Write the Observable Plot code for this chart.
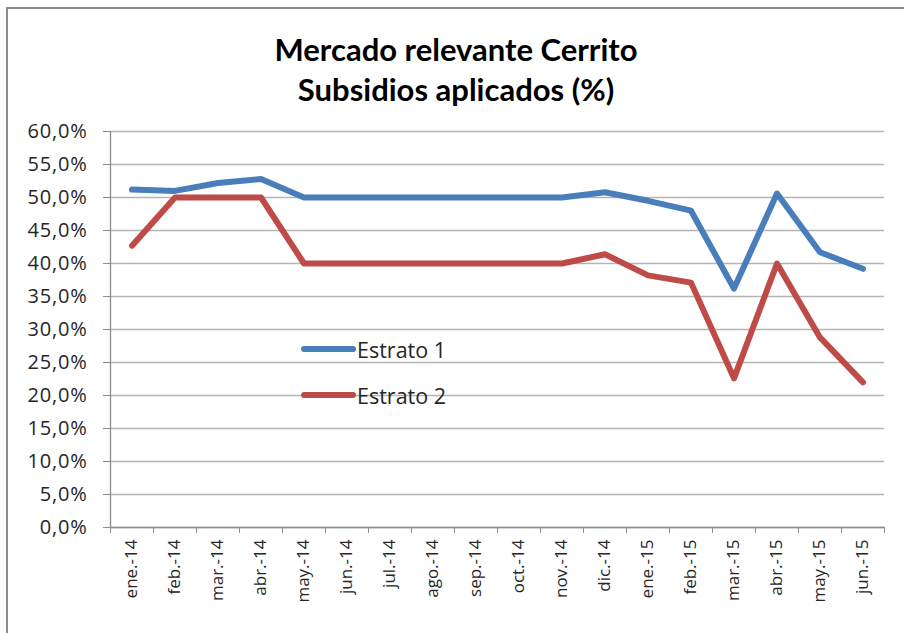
<!DOCTYPE html>
<html>
<head>
<meta charset="utf-8">
<script src="https://cdn.jsdelivr.net/npm/d3@7"></script>
<script src="https://cdn.jsdelivr.net/npm/@observablehq/plot@0.6"></script>
<style>
  html, body { margin: 0; padding: 0; background: #fff; }
  #wrap { position: relative; width: 904px; height: 633px; overflow: hidden; font-family: "Open Sans", Lato, sans-serif; }
  #frame { position: absolute; left: 6px; top: 7px; width: 920px; height: 650px; border-top: 2px solid #8c8c8c; border-left: 2px solid #8c8c8c; box-sizing: border-box; }
  #title { position: relative; height: 118px; box-sizing: border-box; padding-top: 29px; padding-left: 8px; text-align: center; font-family: Lato, sans-serif; font-weight: bold; font-size: 31px; line-height: 40px; color: #000; }
  #chart { position: relative; }
  #chart svg g[aria-label="y-axis tick label"] { letter-spacing: 0.8px; }
  #legend { position: absolute; left: 301px; top: 0; font-size: 21.5px; color: #262626; }
  .item { position: absolute; left: 0; display: flex; align-items: center; height: 26px; white-space: nowrap; }
  .swatch { width: 55px; height: 6px; border-radius: 3px; margin-right: 1px; }
</style>
</head>
<body>
<div id="wrap">
  <div id="frame"></div>
  <div id="title">Mercado relevante Cerrito<br>Subsidios aplicados (%)</div>
  <div id="chart"></div>
  <div id="legend"></div>
</div>
<script>
const months = ["ene.-14","feb.-14","mar.-14","abr.-14","may.-14","jun.-14","jul.-14","ago.-14","sep.-14","oct.-14","nov.-14","dic.-14","ene.-15","feb.-15","mar.-15","abr.-15","may.-15","jun.-15"];
const estrato1 = [51.2, 51.0, 52.2, 52.8, 50.0, 50.0, 50.0, 50.0, 50.0, 50.0, 50.0, 50.8, 49.5, 48.0, 36.2, 50.6, 41.7, 39.2];
const estrato2 = [42.7, 50.0, 50.0, 50.0, 40.0, 40.0, 40.0, 40.0, 40.0, 40.0, 40.0, 41.4, 38.2, 37.1, 22.6, 40.0, 28.8, 22.0];
const seriesNames = ["Estrato 1", "Estrato 2"];
const seriesColors = ["#4a7ebb", "#be4b48"];
const yTicks = [0, 5, 10, 15, 20, 25, 30, 35, 40, 45, 50, 55, 60];

const data = [];
months.forEach((m, i) => {
  data.push({i, month: m, series: seriesNames[0], value: estrato1[i]});
  data.push({i, month: m, series: seriesNames[1], value: estrato2[i]});
});
const idx = months.map((m, i) => i);
const bounds = [-0.5, ...idx.map(i => i + 0.5)];
const fmt = d => d.toFixed(1).replace(".", ",") + "%";

const chart = Plot.plot({
  width: 904,
  height: 515,
  marginLeft: 110,
  marginRight: 20,
  marginTop: 13,
  marginBottom: 106,
  style: { fontFamily: "'Open Sans', sans-serif", background: "transparent", overflow: "visible" },
  x: { type: "linear", domain: [-0.5, months.length - 0.5] },
  y: { domain: [0, 60] },
  color: { domain: seriesNames, range: seriesColors },
  marks: [
    Plot.gridY(yTicks, { stroke: "#b4b4b4", strokeOpacity: 1, strokeWidth: 1.3 }),
    Plot.axisY({ ticks: yTicks, tickSize: 7, tickPadding: 16, tickFormat: fmt, fontSize: 20, stroke: "#8c8c8c", fill: "#262626", label: null }),
    Plot.axisX({ ticks: bounds, tickSize: 6, tickFormat: () => "", stroke: "#8c8c8c", label: null }),
    Plot.axisX({ ticks: idx, tickSize: 0, tickPadding: 12, tickRotate: -90, tickFormat: i => months[i], fontSize: 17, fill: "#262626", label: null }),
    Plot.ruleX([-0.5], { stroke: "#8c8c8c", strokeWidth: 1.3 }),
    Plot.ruleY([0], { stroke: "#8c8c8c", strokeWidth: 1.3 }),
    Plot.line(data, { x: "i", y: "value", z: "series", stroke: "series", strokeWidth: 6, strokeLinejoin: "round", strokeLinecap: "round" })
  ]
});
document.getElementById("chart").appendChild(chart);

const legend = document.getElementById("legend");
const legendTops = [336, 382];
seriesNames.forEach((name, k) => {
  const item = document.createElement("div");
  item.className = "item";
  item.style.top = legendTops[k] + "px";
  const sw = document.createElement("div");
  sw.className = "swatch";
  sw.style.background = seriesColors[k];
  const t = document.createElement("span");
  t.textContent = name;
  item.appendChild(sw);
  item.appendChild(t);
  legend.appendChild(item);
});
</script>
</body>
</html>
